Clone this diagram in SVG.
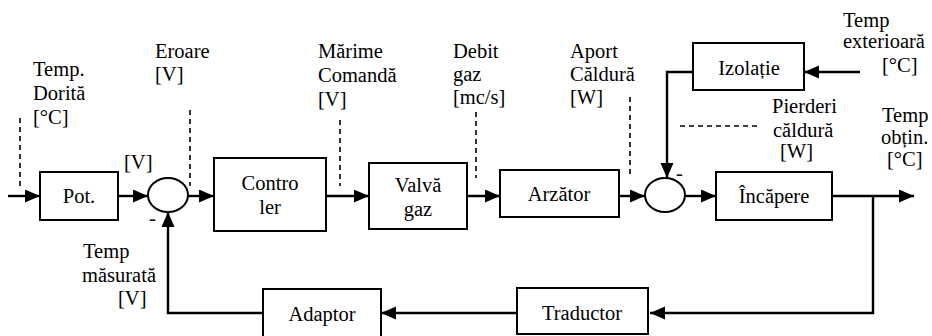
<svg xmlns="http://www.w3.org/2000/svg" width="932" height="336" viewBox="0 0 932 336" font-family="'Liberation Serif', 'Times New Roman', 'DejaVu Serif', serif" font-size="20.5">
<style>
  text { font-family: "Liberation Serif", "Times New Roman", "DejaVu Serif", serif; font-size: 20.5px; fill: #000; }
  .c { text-anchor: middle; }
  .box { fill: #fff; stroke: #000; stroke-width: 2; }
  .sum { fill: #fff; stroke: #000; stroke-width: 2; }
  .arr { fill: none; stroke: #000; stroke-width: 2.4; marker-end: url(#ah); }
  .dash { fill: none; stroke: #000; stroke-width: 1.6; stroke-dasharray: 5 4; }
</style>
<defs>
  <marker id="ah" markerUnits="userSpaceOnUse" markerWidth="16" markerHeight="14" refX="15" refY="6.5" orient="auto">
    <path d="M0,0 L15,6.5 L0,13 z" fill="#000"/>
  </marker>
</defs>
<rect width="932" height="336" fill="#fff"/>

<g id="connectors">
  <line class="arr" x1="8" y1="196" x2="40" y2="196"/>
  <line class="arr" x1="118" y1="196" x2="148" y2="196"/>
  <line class="arr" x1="188" y1="196" x2="214" y2="196"/>
  <line class="arr" x1="326" y1="196" x2="369" y2="196"/>
  <line class="arr" x1="467" y1="196" x2="500" y2="196"/>
  <line class="arr" x1="619" y1="196" x2="645" y2="196"/>
  <line class="arr" x1="686" y1="196" x2="716" y2="196"/>
  <line class="arr" x1="832" y1="196" x2="914" y2="196"/>
  <polyline class="arr" points="873,196 873,313 650,313"/>
  <line class="arr" x1="517" y1="313" x2="381" y2="313"/>
  <polyline class="arr" points="263,313 168,313 168,212"/>
  <line class="arr" x1="860" y1="72" x2="804" y2="72"/>
  <polyline class="arr" points="693,72 667,72 667,178"/>
  <line class="dash" x1="20" y1="118" x2="20" y2="186"/>
  <line class="dash" x1="190" y1="110" x2="190" y2="186"/>
  <line class="dash" x1="340" y1="120" x2="340" y2="186"/>
  <line class="dash" x1="476" y1="112" x2="476" y2="178"/>
  <line class="dash" x1="630" y1="97" x2="630" y2="174"/>
  <line class="dash" x1="680" y1="126" x2="760" y2="126"/>
</g>

<g id="pot"><rect class="box" x="40" y="172" width="78" height="48"/><text class="c" x="79" y="203">Pot.</text></g>
<g id="sum1"><ellipse class="sum" cx="168" cy="195" rx="20" ry="17"/><text x="149" y="225">-</text></g>
<g id="controler"><rect class="box" x="214" y="158" width="112" height="73"/><text class="c" x="270" y="190">Contro</text><text class="c" x="270" y="214">ler</text></g>
<g id="valva"><rect class="box" x="369" y="163" width="98" height="66"/><text class="c" x="418" y="192">Valvă</text><text class="c" x="418" y="216">gaz</text></g>
<g id="arzator"><rect class="box" x="500" y="170" width="119" height="47"/><text class="c" x="559" y="201">Arzător</text></g>
<g id="sum2"><ellipse class="sum" cx="665" cy="195" rx="20" ry="17"/><text x="676" y="180">-</text></g>
<g id="incapere"><rect class="box" x="716" y="172" width="116" height="48"/><text class="c" x="774" y="203">Încăpere</text></g>
<g id="izolatie"><rect class="box" x="693" y="43" width="111" height="47"/><text class="c" x="749" y="75">Izolație</text></g>
<g id="traductor"><rect class="box" x="517" y="288" width="131" height="46"/><text class="c" x="582" y="320">Traductor</text></g>
<g id="adaptor"><rect class="box" x="263" y="289" width="118" height="52"/><text class="c" x="322" y="321">Adaptor</text></g>

<g id="labels">
  <text x="33" y="76">Temp.</text><text x="33" y="100">Dorită</text><text x="33" y="124">[°C]</text>
  <text x="155" y="58">Eroare</text><text x="155" y="81">[V]</text>
  <text x="124" y="169">[V]</text>
  <text x="318" y="58">Mărime</text><text x="318" y="82">Comandă</text><text x="318" y="106">[V]</text>
  <text x="453" y="58">Debit</text><text x="453" y="81">gaz</text><text x="453" y="104">[mc/s]</text>
  <text x="570" y="58">Aport</text><text x="570" y="81">Căldură</text><text x="570" y="104">[W]</text>
  <text x="843" y="27">Temp</text><text x="843" y="48">exterioară</text><text x="882" y="72">[°C]</text>
  <text x="772" y="113">Pierderi</text><text x="773" y="137">căldură</text><text x="780" y="158">[W]</text>
  <text x="882" y="122">Temp</text><text x="881" y="144">obțin.</text><text x="887" y="166">[°C]</text>
  <text x="83" y="258">Temp</text><text x="82" y="282">măsurată</text><text x="118" y="305">[V]</text>
</g>
</svg>
